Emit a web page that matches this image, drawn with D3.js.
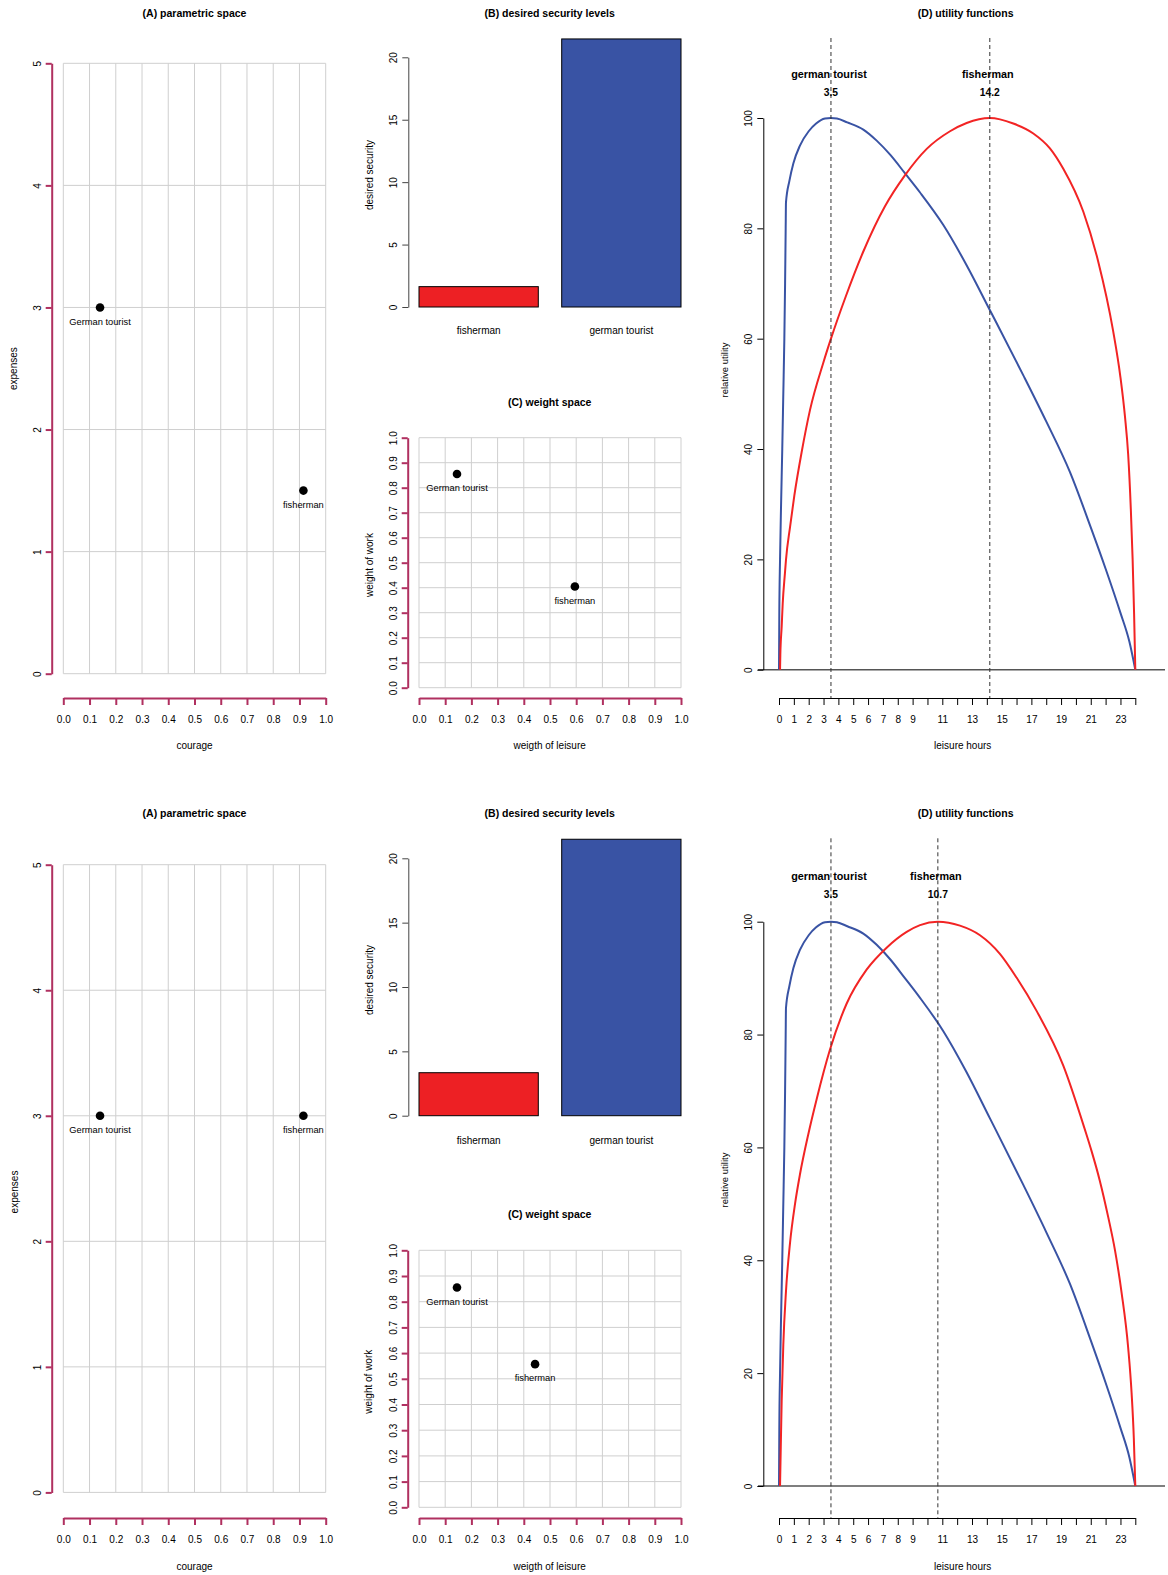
<!DOCTYPE html>
<html lang="en">
<head>
<meta charset="UTF-8">
<title>fisherman and german tourist</title>
<style>
	body { margin: 0; background: #fff; }
	text { font-family: "Liberation Sans", Arial, sans-serif; fill: #000; }
</style>
<script src="https://d3js.org/d3.v7.min.js"></script>
</head>
<body>
<script type="text/javascript">
// ---- data ----
const pointNames = ["German tourist", "fisherman"];
const courage = [[0.14, 0.915], [0.14, 0.915]];          // top row, bottom row
const expenses = [[3, 1.5], [3, 3]];

const barNames = ["fisherman", "german tourist"];
const security = [[1.63, 21.47], [3.34, 21.48]];

const leisureWeight = [[0.145, 0.595], [0.145, 0.443]];
const workWeight = [[0.855, 0.405], [0.855, 0.557]];

const optimumNames = ["german tourist", "fisherman"];
const optimum = [[3.5, 14.2], [3.5, 10.7]];

// utility curves: [leisure hours, relative utility]
const touristUtility = [
	[0, 0], [0.02, 10], [0.07, 20], [0.14, 30], [0.22, 40], [0.29, 50], [0.36, 60], [0.41, 70], [0.45, 80],
	[0.47, 84.7], [0.7, 88.6], [0.97, 91.8], [1.41, 95.0], [2.0, 97.6], [2.5, 99.0], [3.1, 99.9], [3.5, 100],
	[3.9, 99.9], [4.6, 99.2], [5.68, 97.9], [6.58, 95.9], [7.5, 93.3], [8.48, 90.0], [9.5, 86.5], [11.07, 80.6],
	[12.6, 73.5], [14.2, 65.2], [16.45, 53.4], [18.0, 45.0], [19.6, 35.8], [21.0, 25.8], [22.0, 18.3],
	[23.0, 10.3], [23.6, 5.1], [24, 0]
];
const fishermanUtilityTop = [
	[0.07, 0], [0.09, 2.7], [0.18, 7.8], [0.25, 12], [0.4, 17.5], [0.47, 19.9], [0.75, 26], [1.03, 31.5],
	[1.53, 39.5], [2.09, 47.1], [2.98, 55.6], [3.5, 60], [4.49, 67.6], [5.68, 75.8], [7.14, 84], [8.48, 89.6],
	[9.95, 94.4], [11.52, 97.6], [12.64, 99.1], [14.2, 100], [15.78, 99], [17.13, 97.2], [18.25, 94.5],
	[19.15, 90.8], [20.5, 83], [21.5, 74], [22.5, 61.5], [23.0, 53], [23.3, 46], [23.52, 39],
	[23.7, 29], [23.82, 20], [23.92, 10], [24, 0]
];
const fishermanUtilityBottom = [
	[0.07, 0], [0.12, 7], [0.18, 15], [0.29, 25], [0.47, 34.5], [0.74, 43], [1.08, 50], [1.41, 55.2],
	[1.97, 62.3], [2.54, 68.6], [3.43, 77.3], [4.56, 85.5], [5.9, 91.5], [7.25, 95.4], [8.6, 98.2], [9.5, 99.4],
	[10.7, 100], [12.19, 99.3], [13.54, 97.6], [14.88, 94.3], [16.0, 90.1], [17.35, 84.2], [19.15, 74.5],
	[20.6, 63.2], [21.06, 59.3], [21.6, 54.2], [22.18, 47.6], [22.63, 41.8], [23.08, 34.2], [23.52, 24.5],
	[23.75, 16.5], [23.9, 8.5], [24, 0]
];
const fishermanUtility = [fishermanUtilityTop, fishermanUtilityBottom];

const hourTicks = d3.range(0, 25);
const hourLabels = [0, 1, 2, 3, 4, 5, 6, 7, 8, 9, 11, 13, 15, 17, 19, 21, 23];

// ---- layout ----
const rows = [
	{ title: 13, aTop: 63.3, aBot: 673.7, bTop: 57.3, bBot: 307, bLab: 330.5, cTitle: 402.7, cTop: 437.7, cBot: 687.7,
		dTop: 118, dBot: 669.7, dash: 38, dLab: 74, dNum: 92.3, axisY: 698, tickLab: 719.5, xLab: 745.5,
		aYLab: 368.6, bYLab: 175, cYLab: 565, dYLab: 370 },
	{ title: 813.5, aTop: 864.7, aBot: 1492.4, bTop: 858.3, bBot: 1115.7, bLab: 1140, cTitle: 1214, cTop: 1250.3, cBot: 1507.3,
		dTop: 921.7, dBot: 1486, dash: 838.3, dLab: 876.5, dNum: 894.3, axisY: 1518, tickLab: 1539.5, xLab: 1566,
		aYLab: 1192, bYLab: 980, cYLab: 1381.7, dYLab: 1180 }
];

const maroon = "#b03060";
const gridCol = "#cfcfcf";
const barFill = ["#ed2024", "#3953a4"];
const touristCol = "#3953a4";
const fisherCol = "#f22424";

const svg = d3.select("body").append("svg")
	.attr("width", 1168)
	.attr("height", 1575);

function label(g, x, y, txt, size, opts) {
	opts = opts || {};
	const t = g.append("text")
		.attr("x", x).attr("y", y)
		.attr("dy", "0.35em")
		.attr("text-anchor", opts.anchor || "middle")
		.style("font-size", size + "px")
		.text(txt);
	if (opts.bold) t.style("font-weight", "bold");
	if (opts.rotate) t.attr("transform", "rotate(-90," + x + "," + y + ")");
	return t;
}

// left axis with R-style rotated labels
function leftAxis(g, scale, values, fmt, x, color, width, labelX) {
	const ax = g.append("g")
		.attr("transform", "translate(" + x + ",0)")
		.call(d3.axisLeft(scale).tickValues(values).tickFormat(fmt).tickSize(6).tickSizeOuter(0));
	ax.select(".domain").attr("stroke", color).attr("stroke-width", width);
	ax.selectAll(".tick line").attr("stroke", color).attr("stroke-width", width);
	ax.selectAll(".tick text")
		.attr("x", 0).attr("dy", 0)
		.attr("text-anchor", "middle")
		.style("font-family", '"Liberation Sans", Arial, sans-serif')
		.style("font-size", "10px")
		.attr("transform", "translate(" + (labelX - x + 3.5) + ",0) rotate(-90)");
	return ax;
}

function bottomAxis(g, scale, values, fmt, y, color, width, labY) {
	const ax = g.append("g")
		.attr("transform", "translate(0," + y + ")")
		.call(d3.axisBottom(scale).tickValues(values).tickFormat(fmt).tickSize(7).tickSizeOuter(0));
	ax.select(".domain").attr("stroke", color).attr("stroke-width", width);
	ax.selectAll(".tick line").attr("stroke", color).attr("stroke-width", width);
	ax.selectAll(".tick text")
		.attr("y", labY - y).attr("dy", "0.35em")
		.style("font-family", '"Liberation Sans", Arial, sans-serif')
		.style("font-size", "10px");
	return ax;
}

rows.forEach(function(L, r) {
	const g = svg.append("g");

	// ---------- (A) parametric space ----------
	const ax = d3.scaleLinear().domain([0, 1]).range([63.3, 325.7]);
	const ay = d3.scaleLinear().domain([0, 5]).range([L.aBot, L.aTop]);
	label(g, 194.5, L.title, "(A) parametric space", 10.5, { bold: true });

	g.append("g").selectAll("line")
		.data(d3.range(0, 11).map(d => d / 10))
		.join("line")
		.attr("x1", d => ax(d)).attr("x2", d => ax(d))
		.attr("y1", ay(0)).attr("y2", ay(5))
		.attr("stroke", gridCol);
	g.append("g").selectAll("line")
		.data(d3.range(0, 6))
		.join("line")
		.attr("x1", ax(0)).attr("x2", ax(1))
		.attr("y1", d => ay(d)).attr("y2", d => ay(d))
		.attr("stroke", gridCol);

	leftAxis(g, ay, d3.range(0, 6), d3.format("d"), 51.7, maroon, 2, 37.7);
	bottomAxis(g, ax, d3.range(0, 11).map(d => d / 10), d3.format(".1f"), L.axisY, maroon, 2, L.tickLab);
	label(g, 194.5, L.xLab, "courage", 10);
	label(g, 14, L.aYLab, "expenses", 10, { rotate: true });

	pointNames.forEach(function(n, i) {
		g.append("circle")
			.attr("cx", ax(courage[r][i])).attr("cy", ay(expenses[r][i]))
			.attr("r", 4.3).attr("fill", "#000");
		label(g, ax(courage[r][i]), ay(expenses[r][i]) + 14, n, 9.3);
	});

	// ---------- (B) desired security levels ----------
	const bx = d3.scaleBand().domain(barNames).range([419, 681]).paddingInner(0.164).paddingOuter(0);
	const by = d3.scaleLinear().domain([0, 20]).range([L.bBot, L.bTop]);
	label(g, 549.7, L.title, "(B) desired security levels", 10.5, { bold: true });

	g.append("g").selectAll("rect")
		.data(barNames)
		.join("rect")
		.attr("x", d => bx(d))
		.attr("width", bx.bandwidth())
		.attr("y", (d, i) => by(security[r][i]))
		.attr("height", (d, i) => by(0) - by(security[r][i]))
		.attr("fill", (d, i) => barFill[i])
		.attr("stroke", "#000")
		.attr("stroke-width", 1);
	barNames.forEach(function(n) {
		label(g, bx(n) + bx.bandwidth() / 2, L.bLab, n, 10);
	});
	leftAxis(g, by, [0, 5, 10, 15, 20], d3.format("d"), 408.3, "#444", 1, 393);
	label(g, 369, L.bYLab, "desired security", 10, { rotate: true });

	// ---------- (C) weight space ----------
	const cx = d3.scaleLinear().domain([0, 1]).range([419, 681]);
	const cy = d3.scaleLinear().domain([0, 1]).range([L.cBot, L.cTop]);
	label(g, 549.7, L.cTitle, "(C) weight space", 10.5, { bold: true });

	const tenths = d3.range(0, 11).map(d => d / 10);
	g.append("g").selectAll("line")
		.data(tenths)
		.join("line")
		.attr("x1", d => cx(d)).attr("x2", d => cx(d))
		.attr("y1", cy(0)).attr("y2", cy(1))
		.attr("stroke", gridCol);
	g.append("g").selectAll("line")
		.data(tenths)
		.join("line")
		.attr("x1", cx(0)).attr("x2", cx(1))
		.attr("y1", d => cy(d)).attr("y2", d => cy(d))
		.attr("stroke", gridCol);

	leftAxis(g, cy, tenths, d3.format(".1f"), 407.7, maroon, 2, 393);
	bottomAxis(g, cx, tenths, d3.format(".1f"), L.axisY, maroon, 2, L.tickLab);
	label(g, 549.7, L.xLab, "weigth of leisure", 10);
	label(g, 369, L.cYLab, "weight of work", 10, { rotate: true });

	pointNames.forEach(function(n, i) {
		g.append("circle")
			.attr("cx", cx(leisureWeight[r][i])).attr("cy", cy(workWeight[r][i]))
			.attr("r", 4.3).attr("fill", "#000");
		label(g, cx(leisureWeight[r][i]), cy(workWeight[r][i]) + 14, n, 9.3);
	});

	// ---------- (D) utility functions ----------
	const dx = d3.scaleLinear().domain([0, 24]).range([779, 1135.3]);
	const dy = d3.scaleLinear().domain([0, 100]).range([L.dBot, L.dTop]);
	label(g, 965.7, L.title, "(D) utility functions", 10.5, { bold: true });

	g.append("line")
		.attr("x1", 758).attr("x2", 1165)
		.attr("y1", dy(0)).attr("y2", dy(0))
		.attr("stroke", "#555").attr("stroke-width", 1.5);

	const line = d3.line()
		.x(d => dx(d[0]))
		.y(d => dy(d[1]))
		.curve(d3.curveMonotoneX);

	g.append("path")
		.datum(touristUtility)
		.attr("d", line)
		.attr("fill", "none")
		.attr("stroke", touristCol)
		.attr("stroke-width", 2);
	g.append("path")
		.datum(fishermanUtility[r])
		.attr("d", line)
		.attr("fill", "none")
		.attr("stroke", fisherCol)
		.attr("stroke-width", 2);

	optimumNames.forEach(function(n, i) {
		const h = optimum[r][i];
		g.append("line")
			.attr("x1", dx(h)).attr("x2", dx(h))
			.attr("y1", L.dash).attr("y2", L.axisY)
			.attr("stroke", "#333").attr("stroke-width", 1)
			.attr("stroke-dasharray", "4,3");
		label(g, dx(h) - 2, L.dLab, n, 10.8, { bold: true });
		label(g, dx(h), L.dNum, d3.format(".1f")(h), 10.3, { bold: true });
	});

	leftAxis(g, dy, [0, 20, 40, 60, 80, 100], d3.format("d"), 763.3, "#000", 1, 748);
	bottomAxis(g, dx, hourTicks, d => hourLabels.includes(d) ? String(d) : "", L.axisY, "#000", 1, L.tickLab);
	label(g, 962.7, L.xLab, "leisure hours", 10);
	label(g, 725, L.dYLab, "relative utility", 9.5, { rotate: true });
});
</script>
</body>
</html>
